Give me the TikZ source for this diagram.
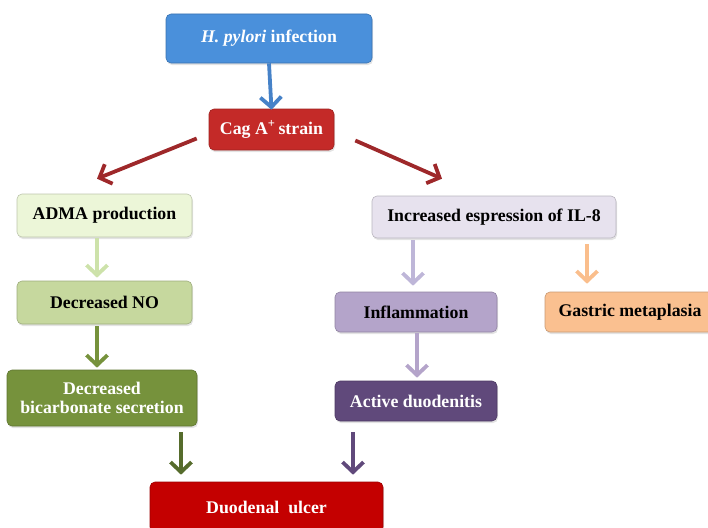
\documentclass[tikz,border=0pt]{standalone}
\usepackage{fontspec}
\setmainfont{Liberation Serif}
\usetikzlibrary{arrows.meta,calc,shadows}
\definecolor{cBlue}{RGB}{74,144,219}
\definecolor{cBlueA}{RGB}{70,130,200}
\definecolor{cCag}{RGB}{196,42,40}
\definecolor{cRedA}{RGB}{158,40,42}
\definecolor{cAdma}{RGB}{236,246,216}
\definecolor{cNo}{RGB}{198,216,158}
\definecolor{cBic}{RGB}{118,146,60}
\definecolor{cIl}{RGB}{231,226,238}
\definecolor{cInfl}{RGB}{180,164,202}
\definecolor{cGas}{RGB}{250,192,144}
\definecolor{cAct}{RGB}{96,73,123}
\definecolor{cDu}{RGB}{196,0,0}
\definecolor{cGreenL}{RGB}{205,226,170}
\definecolor{cGreenD}{RGB}{86,108,44}
\definecolor{cLavA}{RGB}{190,182,216}
\definecolor{cOrA}{RGB}{250,190,140}
\tikzset{
  box/.style={rounded corners=5pt, inner sep=0pt, align=center,
    font=\fontsize{17.8}{19.5}\selectfont\bfseries, draw=#1!80!black, line width=0.6pt, fill=#1,
    drop shadow={opacity=0.22, shadow xshift=1pt, shadow yshift=-2pt}},
  flow/.style={line width=3.8pt, -{Straight Barb[length=10pt,width=21pt,line width=3.8pt]}, draw=#1},
}
\begin{document}
\begin{tikzpicture}[x=1pt,y=-1pt]
\clip (0,0) rectangle (708,527);
\useasboundingbox (0,0) rectangle (708,527);
\node[box=cBlue, text=white, minimum width=206pt, minimum height=49pt] (hp) at (269,38.5) {\textit{H. pylori} infection};
\node[box=cCag, text=white, minimum width=125pt, minimum height=41pt] (cag) at (271.5,129.5) {Cag A\textsuperscript{+}\,strain};
\node[box=cAdma, text=black, minimum width=175pt, minimum height=43pt] (adma) at (104.5,215.5) {ADMA production};
\node[box=cNo, text=black, minimum width=175pt, minimum height=43pt] (no) at (104.5,302.5) {Decreased NO};
\node[box=cBic, text=white, minimum width=190pt, minimum height=56pt] (bic) at (102,398) {Decreased\\bicarbonate secretion};
\node[box=cIl, text=black, minimum width=244pt, minimum height=42pt] (il) at (494,217) {Increased espression of IL-8};
\node[box=cInfl, text=black, minimum width=162pt, minimum height=40pt] (infl) at (416,312) {Inflammation};
\node[box=cGas, text=black, minimum width=170pt, minimum height=40pt] (gas) at (630,312) {Gastric metaplasia};
\node[box=cAct, text=white, minimum width=162pt, minimum height=40pt] (act) at (416,401) {Active duodenitis};
\node[box=cDu, text=white, minimum width=233pt, minimum height=50pt] (du) at (266.5,507) {Duodenal\ \ ulcer};

\draw[flow=cBlueA] (hp.south) -- ([yshift=-1pt]cag.north);
\draw[flow=cRedA] ([xshift=-12pt,yshift=-9pt]cag.west) -- ([xshift=-7.5pt,yshift=15pt]adma.north);
\draw[flow=cRedA] ([xshift=21pt,yshift=-11pt]cag.east) -- ([xshift=-52pt,yshift=17pt]il.north);
\draw[flow=cGreenL] ([yshift=-1pt]adma.south -| 97,0) -- ([yshift=3pt]no.north -| 97,0);
\draw[flow=cBic] ([yshift=-2pt]no.south -| 97,0) -- ([yshift=2pt]bic.north -| 97,0);
\draw[flow=cLavA] ([yshift=-2pt]il.south -| 413,0) -- ([yshift=6pt]infl.north -| 413,0);
\draw[flow=cOrA] ([yshift=-6pt]il.south -| 587,0) -- ([yshift=8pt]gas.north -| 587,0);
\draw[flow=cInfl] ([yshift=-1pt]infl.south -| 417,0) -- ([yshift=3pt]act.north -| 417,0);
\draw[flow=cGreenD] ([yshift=-6pt]bic.south -| 181,0) -- ([yshift=7pt]du.north -| 181,0);
\draw[flow=cAct] ([yshift=-11pt]act.south -| 353,0) -- ([yshift=7pt]du.north -| 353,0);
\end{tikzpicture}
\end{document}
